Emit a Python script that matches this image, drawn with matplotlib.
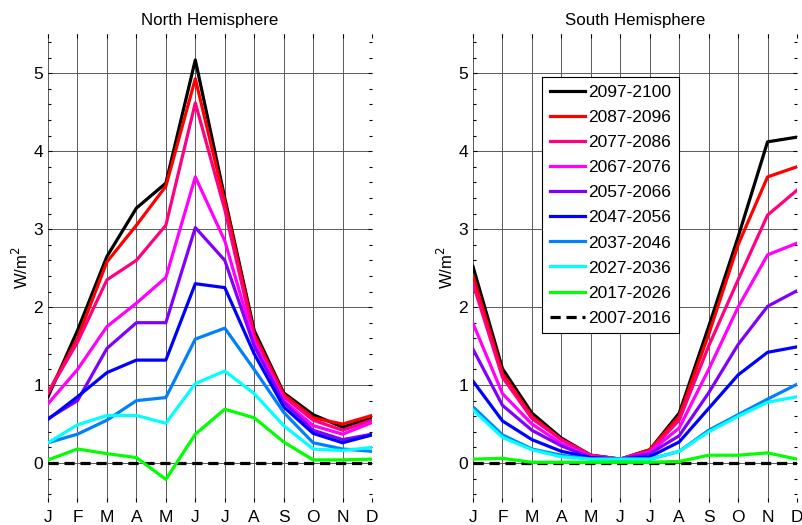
import matplotlib
matplotlib.use("Agg")
import matplotlib.pyplot as plt
from matplotlib.ticker import MultipleLocator

plt.rcParams['font.family'] = ['Liberation Sans', 'DejaVu Sans']

months = ['J', 'F', 'M', 'A', 'M', 'J', 'J', 'A', 'S', 'O', 'N', 'D']
periods = ['2097-2100', '2087-2096', '2077-2086', '2067-2076', '2057-2066',
           '2047-2056', '2037-2046', '2027-2036', '2017-2026', '2007-2016']
colors = ['#000000', '#FF0000', '#FF0080', '#FF00FF', '#8000FF',
          '#0000FF', '#0080FF', '#00FFFF', '#00FF00', '#000000']

north_2097 = [0.85, 1.70, 2.65, 3.27, 3.59, 5.17, 3.40, 1.70, 0.90, 0.62, 0.46, 0.58]
north_2087 = [0.90, 1.60, 2.58, 3.05, 3.55, 4.93, 3.35, 1.65, 0.88, 0.58, 0.50, 0.61]
north_2077 = [0.90, 1.55, 2.35, 2.60, 3.05, 4.62, 3.25, 1.60, 0.85, 0.55, 0.42, 0.55]
north_2067 = [0.76, 1.20, 1.75, 2.05, 2.38, 3.67, 2.85, 1.55, 0.80, 0.48, 0.37, 0.52]
north_2057 = [0.57, 0.80, 1.47, 1.80, 1.80, 3.02, 2.60, 1.50, 0.78, 0.42, 0.30, 0.37]
north_2047 = [0.56, 0.85, 1.16, 1.32, 1.32, 2.30, 2.25, 1.40, 0.72, 0.38, 0.26, 0.36]
north_2037 = [0.26, 0.37, 0.55, 0.80, 0.84, 1.59, 1.73, 1.20, 0.65, 0.26, 0.18, 0.15]
north_2027 = [0.26, 0.49, 0.61, 0.61, 0.51, 1.02, 1.18, 0.89, 0.48, 0.18, 0.16, 0.20]
north_2017 = [0.04, 0.18, 0.12, 0.07, -0.21, 0.37, 0.69, 0.58, 0.27, 0.04, 0.04, 0.05]
north_2007 = [0.0] * 12

south_2097 = [2.52, 1.21, 0.64, 0.32, 0.10, 0.05, 0.17, 0.64, 1.75, 2.90, 4.12, 4.18]
south_2087 = [2.40, 1.15, 0.60, 0.30, 0.10, 0.05, 0.17, 0.60, 1.65, 2.80, 3.67, 3.80]
south_2077 = [2.30, 1.10, 0.57, 0.30, 0.10, 0.05, 0.15, 0.55, 1.50, 2.35, 3.18, 3.50]
south_2067 = [1.79, 0.89, 0.50, 0.25, 0.08, 0.05, 0.14, 0.45, 1.20, 2.00, 2.67, 2.82]
south_2057 = [1.46, 0.74, 0.42, 0.22, 0.07, 0.05, 0.12, 0.35, 0.90, 1.52, 2.01, 2.21]
south_2047 = [1.05, 0.54, 0.30, 0.15, 0.07, 0.05, 0.08, 0.27, 0.70, 1.13, 1.42, 1.49]
south_2037 = [0.72, 0.36, 0.18, 0.10, 0.05, 0.05, 0.05, 0.15, 0.42, 0.62, 0.82, 1.01]
south_2027 = [0.68, 0.33, 0.17, 0.08, 0.05, 0.05, 0.05, 0.15, 0.40, 0.60, 0.78, 0.85]
south_2017 = [0.05, 0.06, 0.01, 0.01, 0.01, 0.01, 0.01, 0.02, 0.10, 0.10, 0.13, 0.05]
south_2007 = [0.0] * 12

north = [north_2097, north_2087, north_2077, north_2067, north_2057,
         north_2047, north_2037, north_2027, north_2017, north_2007]
south = [south_2097, south_2087, south_2077, south_2067, south_2057,
         south_2047, south_2037, south_2027, south_2017, south_2007]

fig = plt.figure(figsize=(8.02, 5.25), dpi=100)
ax1 = fig.add_axes([0.0599, 0.0438, 0.404, 0.891])
ax2 = fig.add_axes([0.5898, 0.0438, 0.404, 0.891])

x = list(range(1, 13))
for ax, data, title in [(ax1, north, 'North Hemisphere'), (ax2, south, 'South Hemisphere')]:
    for vals, c, lab in zip(data, colors, periods):
        if lab == '2007-2016':
            ax.plot(x, vals, color=c, lw=2.3, ls=(0, (3.2, 1.8)), label=lab, zorder=2)
        else:
            ax.plot(x, vals, color=c, lw=2.3, label=lab, zorder=3)
    ax.set_xlim(1, 12)
    ax.set_ylim(-0.5, 5.5)
    ax.set_xticks(x)
    ax.set_xticklabels(months, fontsize=12.5)
    ax.set_yticks([0, 1, 2, 3, 4, 5])
    ax.set_yticklabels(['0', '1', '2', '3', '4', '5'], fontsize=12.5)
    ax.yaxis.set_minor_locator(MultipleLocator(0.2))
    ax.tick_params(which='both', direction='in', top=True, right=True, length=3,
                   width=0.8, color='black')
    ax.tick_params(axis='x', which='major', pad=6)
    ax.tick_params(which='minor', length=2)
    for s in ax.spines.values():
        s.set_visible(False)
    ax.grid(True, which='major', color='#5a5a5a', lw=0.7)
    ax.set_axisbelow(True)
    ax.set_title(title, fontsize=12.2, pad=7)
    ax.set_ylabel('W/m$^2$', fontsize=12, labelpad=2)

leg = ax2.legend(loc='upper left', bbox_to_anchor=(0.213, 0.908), borderaxespad=0,
                 fontsize=12.5, frameon=True, fancybox=False, handlelength=2.0,
                 labelspacing=0.57, borderpad=0.45, handletextpad=0.2)
leg.get_frame().set_edgecolor('black')
leg.get_frame().set_linewidth(0.8)
leg.get_frame().set_alpha(1)

fig.savefig('out.png', dpi=100)
